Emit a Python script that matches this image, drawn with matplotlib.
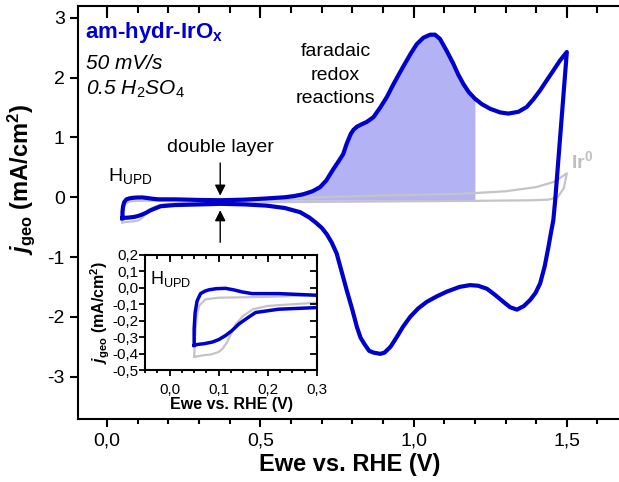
import numpy as np
from matplotlib import pyplot as plt
from matplotlib.ticker import MultipleLocator, FuncFormatter

plt.rcParams['font.family'] = ['Liberation Sans', 'DejaVu Sans']
plt.rcParams['mathtext.fontset'] = 'custom'
plt.rcParams['mathtext.rm'] = 'Liberation Sans'
plt.rcParams['mathtext.it'] = 'Liberation Sans:italic'
plt.rcParams['mathtext.bf'] = 'Liberation Sans:bold'
plt.rcParams['mathtext.bfit'] = 'Liberation Sans:bold:italic'

# am-hydr-IrOx, anodic scan (V vs RHE, mA/cm2)
v_an = [0.050, 0.050, 0.052, 0.056, 0.063, 0.072, 0.080, 0.095, 0.114, 0.130,
        0.148, 0.168, 0.222, 0.300, 0.370, 0.450, 0.520, 0.580, 0.610, 0.640,
        0.670, 0.695, 0.715, 0.738, 0.755, 0.770, 0.782, 0.795, 0.804, 0.815,
        0.830, 0.847, 0.869, 0.891, 0.913, 0.934, 0.961, 0.989, 1.010, 1.032,
        1.054, 1.070, 1.086, 1.108, 1.130, 1.146, 1.163, 1.180, 1.200, 1.222,
        1.250, 1.282, 1.309, 1.342, 1.369, 1.391, 1.413, 1.435, 1.456, 1.478,
        1.500]
j_an = [-0.35, -0.25, -0.15, -0.08, -0.035, -0.02, -0.012, -0.005, -0.003, -0.012,
        -0.025, -0.035, -0.035, -0.045, -0.05, -0.04, -0.02, 0.00, 0.02, 0.05,
        0.10, 0.17, 0.28, 0.47, 0.60, 0.72, 0.90, 1.06, 1.13, 1.18,
        1.22, 1.26, 1.34, 1.50, 1.68, 1.89, 2.14, 2.39, 2.56, 2.67,
        2.72, 2.72, 2.65, 2.45, 2.23, 2.05, 1.89, 1.76, 1.65, 1.56,
        1.48, 1.42, 1.40, 1.43, 1.51, 1.64, 1.79, 1.96, 2.12, 2.29,
        2.43]
# cathodic scan
v_ca = [1.500, 1.483, 1.462, 1.456, 1.448, 1.440, 1.428, 1.413, 1.398, 1.380,
        1.360, 1.337, 1.315, 1.293, 1.265, 1.239, 1.210, 1.184, 1.150, 1.108,
        1.075, 1.043, 1.015, 0.989, 0.965, 0.945, 0.925, 0.905, 0.891, 0.870,
        0.855, 0.840, 0.827, 0.815, 0.800, 0.782, 0.765, 0.749, 0.733, 0.717,
        0.700, 0.680, 0.660, 0.630, 0.580, 0.520, 0.450, 0.370, 0.300, 0.222,
        0.175, 0.160, 0.141, 0.127, 0.114, 0.100, 0.087, 0.070, 0.056, 0.050]
j_ca = [2.43, 1.32, -0.05, -0.38, -0.60, -0.83, -1.15, -1.44, -1.60, -1.72,
        -1.82, -1.88, -1.84, -1.75, -1.63, -1.53, -1.48, -1.47, -1.50, -1.58,
        -1.66, -1.75, -1.86, -2.00, -2.17, -2.34, -2.50, -2.60, -2.62, -2.60,
        -2.57, -2.46, -2.35, -2.17, -1.88, -1.56, -1.24, -0.94, -0.76, -0.62,
        -0.51, -0.42, -0.34, -0.25, -0.18, -0.14, -0.12, -0.11, -0.12, -0.13,
        -0.15, -0.18, -0.22, -0.26, -0.29, -0.315, -0.33, -0.34, -0.345, -0.35]

# Ir0 reference
v_ir = [0.050, 0.052, 0.055, 0.060, 0.073, 0.100, 0.200, 0.300, 0.500, 0.700,
        0.900, 1.100, 1.200, 1.300, 1.400, 1.460, 1.500,
        1.490, 1.470, 1.440, 1.390, 1.200, 0.900, 0.600, 0.300, 0.200, 0.170,
        0.150, 0.135, 0.125, 0.117, 0.108, 0.100, 0.085, 0.070, 0.050]
j_ir = [-0.42, -0.30, -0.18, -0.11, -0.07, -0.06, -0.055, -0.045, -0.02, 0.00,
        0.03, 0.05, 0.07, 0.10, 0.17, 0.26, 0.40,
        0.15, 0.00, -0.04, -0.05, -0.06, -0.07, -0.08, -0.09, -0.11, -0.13,
        -0.17, -0.22, -0.28, -0.33, -0.37, -0.39, -0.405, -0.41, -0.42]

blue = '#0000cc'
gray = '#c4c4c4'

v_cv = np.array(v_an + v_ca[1:])
j_cv = np.array(j_an + j_ca[1:])
v_an = np.array(v_an)
j_an = np.array(j_an)

comma1 = FuncFormatter(lambda x, p: ('%.1f' % x).replace('.', ',').replace('-0,0', '0,0'))


def inward_ticks(a, xmaj, xmin, ymaj, right=True, lw=1.5, lmaj=6.0, lmin=3.5):
    # inward ticks on top (and right) drawn as marker lines in axes coords
    x0, x1 = a.get_xlim()
    tr = a.get_xaxis_transform()
    for xs, ln in ((np.arange(np.ceil(x0 / xmin), np.floor(x1 / xmin) + 1) * xmin, lmin),
                   (np.arange(np.ceil(x0 / xmaj), np.floor(x1 / xmaj) + 1) * xmaj, lmaj)):
        a.plot(xs, np.ones(len(xs)), ls='none', marker=3, ms=ln, mew=lw,
               color='k', transform=tr, clip_on=False, zorder=5)
    if right:
        y0, y1 = a.get_ylim()
        ys = np.arange(np.ceil(y0 / ymaj - 1e-9), np.floor(y1 / ymaj + 1e-9) + 1) * ymaj
        a.plot(np.ones(len(ys)), ys, ls='none', marker=0, ms=lmaj, mew=lw,
               color='k', transform=a.get_yaxis_transform(), clip_on=False, zorder=5)


fig = plt.figure(figsize=(6.19, 4.82), dpi=100)
ax = fig.add_axes([78/619, 63/482, 544/619, 413/482])

ax.fill_between(v_an, j_an, -0.05, where=(v_an >= 0.37) & (v_an <= 1.2),
                color='#0000dd', alpha=0.3, lw=0)
ax.plot(v_ir, j_ir, color=gray, lw=1.6)
ax.plot(v_cv, j_cv, color=blue, lw=3, solid_joinstyle='round')

ax.set_xlim(-0.095, 1.68)
ax.set_ylim(-3.71, 3.2)
ax.xaxis.set_major_locator(MultipleLocator(0.5))
ax.xaxis.set_minor_locator(MultipleLocator(0.1))
ax.yaxis.set_major_locator(MultipleLocator(1))
ax.xaxis.set_major_formatter(comma1)
ax.yaxis.set_major_formatter(FuncFormatter(lambda y, p: '%d' % y))
ax.tick_params(axis='both', which='major', labelsize=14, length=6, width=1.5)
ax.tick_params(axis='both', which='minor', length=3.5, width=1.5)
for sp in ax.spines.values():
    sp.set_linewidth(1.5)
ax.set_xlabel('Ewe vs. RHE (V)', fontsize=17, fontweight='bold', labelpad=3)
ax.set_ylabel(r'$\mathbfit{j}_{\mathbf{geo}}$ (mA/cm$^\mathbf{2}$)', fontsize=17,
              fontweight='bold')
ax.yaxis.set_label_coords(-0.075, 0.58)

ax.text(-0.072, 2.66, r'am-hydr-IrO$_\mathbf{x}$', color=blue, fontsize=16,
        fontweight='bold', va='baseline')
ax.text(-0.07, 2.14, '50 mV/s', fontsize=15, style='italic', va='baseline')
ax.text(-0.07, 1.71, r'0.5 H$_\mathit{2}$SO$_\mathit{4}$', fontsize=15,
        style='italic', va='baseline')
ax.text(0.745, 2.37, 'faradaic', fontsize=14, ha='center', va='baseline')
ax.text(0.745, 1.96, 'redox', fontsize=14, ha='center', va='baseline')
ax.text(0.745, 1.57, 'reactions', fontsize=14, ha='center', va='baseline')
ax.text(0.369, 0.75, 'double layer', fontsize=14, ha='center', va='baseline')
ax.text(0.003, 0.27, r'H$_\mathrm{UPD}$', fontsize=14, va='baseline')
ax.text(1.515, 0.48, r'Ir$^\mathbf{0}$', color='#c0c0c0', fontsize=14,
        fontweight='bold', va='baseline')
ax.annotate('', xy=(0.369, -0.02), xytext=(0.369, 0.62),
            arrowprops=dict(arrowstyle='-|>', color='k', lw=1, mutation_scale=16))
ax.annotate('', xy=(0.369, -0.17), xytext=(0.369, -0.80),
            arrowprops=dict(arrowstyle='-|>', color='k', lw=1, mutation_scale=16))
inward_ticks(ax, 0.5, 0.1, 1, right=False, lmaj=8.5, lmin=5)

# inset, zoom on H_UPD region
ins = fig.add_axes([145/619, 112/482, 172/619, 115/482])
ins.plot(v_ir, j_ir, color=gray, lw=1.6)
ins.plot(v_cv, j_cv, color=blue, lw=2.5, solid_joinstyle='round')
ins.set_xlim(-0.05, 0.3)
ins.set_ylim(-0.5, 0.2)
ins.xaxis.set_major_locator(MultipleLocator(0.1))
ins.xaxis.set_minor_locator(MultipleLocator(0.025))
ins.yaxis.set_major_locator(MultipleLocator(0.1))
ins.xaxis.set_major_formatter(comma1)
ins.yaxis.set_major_formatter(comma1)
ins.tick_params(axis='both', which='major', labelsize=11, length=4, width=1.3, pad=1)
ins.tick_params(axis='x', which='major', pad=5)
ins.tick_params(axis='both', which='minor', length=2.5, width=1.3)
for sp in ins.spines.values():
    sp.set_linewidth(1.5)
ins.set_xlabel('Ewe vs. RHE (V)', fontsize=11.5, fontweight='bold', labelpad=0)
ins.set_ylabel(r'$\mathbfit{j}_{\mathbf{geo}}$ (mA/cm$^\mathbf{2}$)', fontsize=11.5,
               fontweight='bold', labelpad=0)
ins.text(-0.04, 0.025, r'H$_\mathrm{UPD}$', fontsize=13, va='baseline')
inward_ticks(ins, 0.1, 0.025, 0.1, lw=1.3, lmaj=5, lmin=3)

fig.savefig('out.png', dpi=100)
